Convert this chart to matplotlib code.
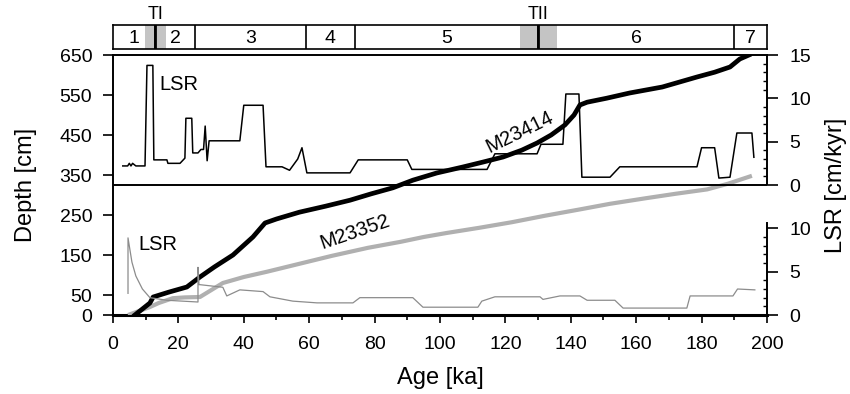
import matplotlib
matplotlib.use('Agg')
import matplotlib.pyplot as plt
import numpy as np

plt.rcParams['font.family'] = ['Liberation Sans', 'DejaVu Sans']

# depth-age curves
age_23414 = [6.7, 9, 11.3, 12.3, 17, 22.6, 26.6, 31, 36.7, 42.8, 46.5, 50, 57, 65, 72.5,
             79, 85.6, 91.7, 99, 107, 113, 119.3, 125, 129.7, 134, 138.2, 141, 142.8, 145,
             151, 158, 168, 178.6, 184, 188.7, 191.7, 194.5]
depth_23414 = [0, 15, 30, 45, 57, 70, 95, 120, 150, 195, 230, 240, 257, 272, 287,
               303, 318, 337, 355, 370, 382, 395, 412, 430, 450, 475, 500, 525, 532,
               542, 555, 570, 595, 607, 620, 640, 650]

age_23352 = [4.6, 8, 11.3, 14, 18.3, 22, 26.6, 30, 33.6, 40, 47, 57, 67, 78, 88, 95,
             102, 112, 122, 132, 142.8, 152, 163, 172, 181.7, 188, 195.4]
depth_23352 = [0, 10, 20, 30, 42, 44, 45, 62, 80, 95, 108, 128, 148, 168, 183, 195,
               205, 218, 232, 248, 264, 278, 292, 303, 314, 328, 348]

# linear sedimentation rates [cm/kyr]
age_lsr_23414 = [3, 4.5, 5, 5.5, 6, 7, 9.8, 10.4, 12.2, 12.5, 16.5, 16.8, 20.5, 22, 22.3,
                 24.1, 24.4, 26, 26.9, 27.7, 28.2, 28.8, 29.4, 38.8, 40, 45.9, 46.8, 51.7,
                 54, 56.5, 57.8, 59.3, 72.5, 75, 90, 91.4, 114.4, 116.8, 123.5, 129.7,
                 130.9, 137.6, 138.5, 142.5, 143.4, 152, 155, 178.6, 180, 184, 185.3,
                 188.7, 190.8, 195.4, 196]
lsr_23414 = [2.2, 2.2, 2.5, 2.2, 2.5, 2.2, 2.2, 13.8, 13.8, 2.9, 2.9, 2.5, 2.5, 3.1, 7.7,
             7.7, 3.7, 3.7, 4.1, 4.1, 6.8, 2.8, 5.1, 5.1, 9.2, 9.2, 2.1, 2.1,
             1.7, 3.0, 4.3, 1.4, 1.4, 2.9, 2.9, 1.8, 1.8, 3.6, 3.6, 3.6,
             4.7, 4.7, 10.5, 10.5, 0.9, 0.9, 2.1, 2.1, 4.3, 4.3, 0.8,
             0.9, 6.0, 6.0, 3.2]

age_lsr_23352 = [4.6, 4.6, 5.8, 7, 9, 11.3, 16.5, 26, 26, 26.3, 26.6, 33.6, 34.8, 38.8,
                 45.9, 48, 55, 62.4, 73.4, 75.5, 91.7, 94.8, 111.6, 112.8, 116.8, 130.6,
                 131.5, 136.7, 142.8, 145, 153.5, 156, 175.5, 176.5, 189.6, 191, 196.3]
lsr_23352 = [2.5, 8.9, 6.1, 4.5, 3.0, 2.0, 1.7, 1.5, 5.5, 3.5, 3.5, 3.2, 2.2, 2.9,
             2.7, 2.1, 1.6, 1.4, 1.4, 2.0, 2.0, 0.9, 0.9, 1.6, 2.1, 2.1,
             1.8, 2.2, 2.2, 1.7, 1.7, 0.8, 0.8, 2.2, 2.2, 3.0, 2.9]

# isotope stages and terminations
stage_bounds = [0, 13, 25, 59, 74, 130, 190, 200]
stage_names = ['1', '2', '3', '4', '5', '6', '7']
term_names = ['TI', 'TII']
term_age = [13, 130]
term_shade = [(9.8, 16.2), (124.5, 135.8)]

split = 325.     # depth where the two LSR scales meet
lsr_offset = 15.  # upper LSR scale sits 15 units above lower one

fig = plt.figure(figsize=(8.5, 3.94), dpi=100, facecolor='white')
ax = fig.add_axes([0.1329, 0.2005, 0.7694, 0.6599])
ax_st = fig.add_axes([0.1329, 0.8756, 0.7694, 0.0609])
ax2 = ax.twinx()

# curves
ax.plot(age_23352, depth_23352, color='#b0b0b0', lw=3.0, solid_capstyle='butt', zorder=3)
ax.plot(age_23414, depth_23414, color='black', lw=3.4, zorder=4)
ax2.plot(age_lsr_23352, lsr_23352, color='#8c8c8c', lw=0.9, zorder=3)
ax2.plot(age_lsr_23414, np.array(lsr_23414) + lsr_offset, color='black', lw=1.1, zorder=3)

ax.axhline(split, color='black', lw=1.4, zorder=5)

# text labels
ax.text(20.2, 577, 'LSR', fontsize=14.5, ha='center', va='center')
ax.text(13.8, 177, 'LSR', fontsize=14.5, ha='center', va='center')
ax.text(124.5, 457, 'M23414', fontsize=14.5, ha='center', va='center', rotation=26)
ax.text(74, 207, 'M23352', fontsize=14.5, ha='center', va='center', rotation=19)

# axes: left depth
ax.set_xlim(0, 200)
ax.set_ylim(0, 650)
ax.set_yticks([0, 50, 150, 250, 350, 450, 550, 650])
ax.set_xticks(np.arange(0, 201, 20))
ax.set_xticks(np.arange(10, 200, 20), minor=True)
ax.tick_params(axis='x', which='major', direction='out', length=6, width=1.2,
               labelsize=14, pad=9)
ax.tick_params(axis='y', which='major', direction='out', length=7, width=1.2,
               labelsize=14, pad=8)
ax.tick_params(axis='x', which='minor', direction='out', length=3.5, width=1.2)
ax.tick_params(axis='y', which='minor', left=False)
ax.spines['right'].set_visible(False)
ax.spines['bottom'].set_linewidth(2.2)
ax.spines['left'].set_linewidth(1.4)
ax.spines['top'].set_linewidth(1.4)
ax.set_xlabel('Age [ka]', fontsize=17, labelpad=10)
ax.set_ylabel('Depth [cm]', fontsize=17, labelpad=16)

# axes: right LSR, two stacked scales
ax2.set_xlim(0, 200)
ax2.set_ylim(0, 30)
ax2.set_yticks([0, 5, 10, 15, 20, 25, 30])
ax2.set_yticklabels(['0', '5', '10', '0', '5', '10', '15'])
ax2.set_yticks(list(range(0, 11)) + list(range(15, 31)), minor=True)
ax2.tick_params(axis='y', which='major', direction='out', length=8, width=1.2,
                labelsize=14, pad=8)
ax2.tick_params(axis='y', which='minor', direction='in', length=3, width=1)
for s in ['left', 'top', 'bottom']:
    ax2.spines[s].set_visible(False)
ax2.spines['right'].set_bounds(0, 10.6)
ax2.spines['right'].set_linewidth(1.4)
ax2.vlines(200, lsr_offset, 30, color='black', lw=1.4, clip_on=False)
ax2.set_ylabel('LSR [cm/kyr]', fontsize=17, labelpad=10)

# stage bar
ax_st.set_xlim(0, 200)
ax_st.set_ylim(0, 1)
for (a, b) in term_shade:
    ax_st.axvspan(a, b, color='#c4c4c4', lw=0)
for b in stage_bounds[1:-1]:
    ax_st.axvline(b, color='black', lw=1.2)
for t, a in zip(term_names, term_age):
    ax_st.axvline(a, color='black', lw=2)
    ax_st.text(a, 1.45, t, fontsize=13, ha='center', va='center')
for i, name in enumerate(stage_names):
    mid = (stage_bounds[i] + stage_bounds[i + 1]) / 2.
    ax_st.text(mid, 0.45, name, fontsize=14, ha='center', va='center')
ax_st.set_xticks([])
ax_st.set_yticks([])
for s in ax_st.spines.values():
    s.set_linewidth(1.2)

fig.savefig('out.png', dpi=100)
